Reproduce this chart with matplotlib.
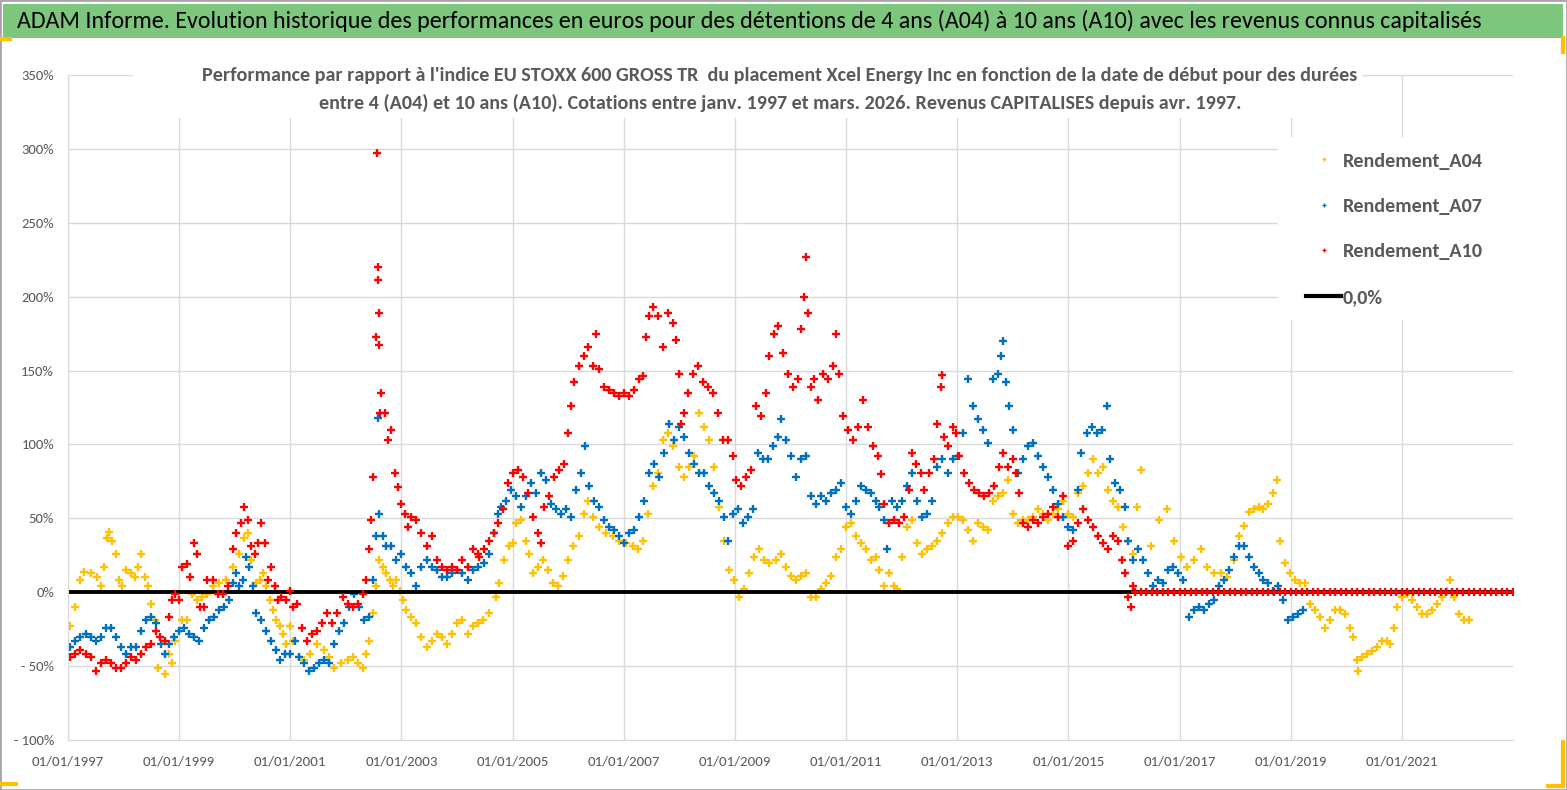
import matplotlib
matplotlib.use('Agg')
import matplotlib.pyplot as plt
from matplotlib import font_manager as fm
from matplotlib.lines import Line2D
from matplotlib.patches import Rectangle
from matplotlib.ticker import FuncFormatter, MultipleLocator, FixedLocator

# ---- data (start date as decimal year, performance in %) ----
a04_year = [
    1997.04, 1997.13, 1997.22, 1997.29, 1997.41, 1997.53, 1997.59, 1997.65, 1997.71, 1997.74, 1997.80, 1997.86, 1997.92, 1997.98,
    1998.05, 1998.14, 1998.20, 1998.26, 1998.32, 1998.38, 1998.44, 1998.50, 1998.56, 1998.62, 1998.74, 1998.81, 1998.87, 1998.93,
    1999.05, 1999.14, 1999.23, 1999.32, 1999.41, 1999.50, 1999.60, 1999.72, 1999.84, 1999.96,
    2000.08, 2000.17, 2000.23, 2000.29, 2000.39, 2000.45, 2000.51, 2000.57, 2000.63, 2000.69, 2000.75, 2000.81, 2000.87, 2000.93, 2000.99,
    2001.05, 2001.15, 2001.24, 2001.36, 2001.48, 2001.60, 2001.69, 2001.78, 2001.91,
    2002.03, 2002.12, 2002.21, 2002.30, 2002.36, 2002.42, 2002.48, 2002.54, 2002.60, 2002.67, 2002.73, 2002.79, 2002.85, 2002.91, 2002.97,
    2003.03, 2003.09, 2003.18, 2003.27, 2003.36, 2003.46, 2003.55, 2003.64, 2003.73, 2003.82, 2003.91,
    2004.00, 2004.09, 2004.19, 2004.28, 2004.37, 2004.46, 2004.58, 2004.70, 2004.76, 2004.85, 2004.94,
    2005.00, 2005.06, 2005.15, 2005.24, 2005.30, 2005.36, 2005.45, 2005.54, 2005.63, 2005.72, 2005.81, 2005.90, 2005.99,
    2006.08, 2006.20, 2006.29, 2006.35, 2006.44, 2006.56, 2006.68, 2006.80, 2006.92,
    2007.04, 2007.16, 2007.25, 2007.34, 2007.43, 2007.52, 2007.61, 2007.70, 2007.79, 2007.88,
    2008.00, 2008.09, 2008.18, 2008.27, 2008.36, 2008.45, 2008.54, 2008.63, 2008.72, 2008.81, 2008.90, 2008.99,
    2009.08, 2009.17, 2009.26, 2009.35, 2009.44, 2009.53, 2009.62, 2009.74, 2009.83, 2009.92,
    2010.01, 2010.10, 2010.19, 2010.28, 2010.37, 2010.46, 2010.55, 2010.64, 2010.73, 2010.82, 2010.91,
    2011.00, 2011.09, 2011.18, 2011.27, 2011.36, 2011.45, 2011.54, 2011.59, 2011.68, 2011.77, 2011.86, 2011.92,
    2012.01, 2012.10, 2012.19, 2012.28, 2012.37, 2012.46, 2012.55, 2012.64, 2012.73, 2012.83, 2012.92,
    2013.01, 2013.10, 2013.19, 2013.28, 2013.37, 2013.46, 2013.55, 2013.64, 2013.73, 2013.82, 2013.91,
    2014.00, 2014.09, 2014.18, 2014.27, 2014.36, 2014.45, 2014.54, 2014.63, 2014.72, 2014.81, 2014.90, 2014.99,
    2015.08, 2015.17, 2015.27, 2015.36, 2015.45, 2015.54, 2015.63, 2015.72, 2015.81, 2015.90, 2015.99,
    2016.08, 2016.17, 2016.23, 2016.30, 2016.48, 2016.63, 2016.78, 2016.90,
    2017.02, 2017.14, 2017.26, 2017.38, 2017.50, 2017.62, 2017.74, 2017.86, 2017.98,
    2018.07, 2018.16, 2018.25, 2018.34, 2018.43, 2018.51, 2018.60, 2018.69, 2018.75, 2018.81, 2018.90, 2018.99,
    2019.08, 2019.17, 2019.26, 2019.35, 2019.44, 2019.53, 2019.62, 2019.71, 2019.80, 2019.89, 2019.98,
    2020.07, 2020.13, 2020.19, 2020.22, 2020.28, 2020.37, 2020.46, 2020.55, 2020.64, 2020.73, 2020.79, 2020.85, 2020.91,
    2021.00, 2021.09, 2021.18, 2021.27, 2021.36, 2021.45, 2021.54, 2021.63, 2021.72, 2021.81, 2021.87, 2021.93,
    2022.02, 2022.11, 2022.20,
]
a04_pct = [
    -23, -10, 8, 14, 13, 10, 4, 17, 37, 41, 35, 26, 8, 4,
    15, 13, 10, 17, 26, 10, 4, -8, -19, -51, -55, -42, -48, -33,
    -19, -19, -1, -5, -3, -1, 4, 6, 8, 17,
    26, 37, 40, 22, 6, 8, 13, 4, -5, -12, -19, -23, -28, -35, -23,
    -33, -44, -46, -42, -35, -39, -44, -51, -48,
    -46, -44, -48, -51, -42, -33, -14, 4, 22, 17, 13, 8, 4, 8, 1,
    -5, -12, -17, -21, -30, -37, -33, -28, -30, -35, -28,
    -21, -19, -28, -23, -21, -19, -14, -3, 6, 22, 31,
    33, 47, 49, 35, 26, 13, 17, 22, 15, 6, 4, 11, 22,
    31, 38, 53, 62, 51, 44, 40, 38, 35,
    33, 31, 29, 35, 53, 72, 81, 103, 108, 99,
    85, 78, 85, 92, 121, 112, 103, 85, 58, 35, 15, 8,
    -3, 2, 13, 24, 29, 22, 20, 22, 26, 17,
    11, 8, 11, 13, -3, -3, 2, 6, 11, 24, 29,
    44, 47, 38, 33, 29, 22, 24, 15, 4, 13, 4, 2,
    24, 44, 49, 33, 26, 29, 31, 35, 40, 47, 51,
    51, 49, 42, 35, 47, 44, 42, 62, 65, 67, 76,
    53, 47, 49, 49, 51, 56, 53, 49, 53, 56, 62, 53,
    51, 67, 72, 81, 90, 81, 85, 69, 62, 58, 44,
    35, 26, 58, 83, 31, 49, 56, 35,
    24, 17, 22, 29, 17, 13, 13, 10, 22,
    38, 45, 54, 56, 58, 56, 60, 67, 76, 35, 20, 13,
    8, 6, 6, -8, -12, -17, -24, -19, -12, -12, -15,
    -24, -30, -46, -53, -44, -42, -40, -37, -33, -33, -35, -24, -10,
    -3, -1, -5, -10, -15, -15, -12, -8, -3, 1, 8, -3,
    -15, -19, -19,
]

a07_year = [
    1997.04, 1997.13, 1997.22, 1997.32, 1997.41, 1997.50, 1997.59, 1997.68, 1997.77, 1997.86, 1997.95,
    1998.05, 1998.14, 1998.23, 1998.32, 1998.41, 1998.50, 1998.59, 1998.68, 1998.74, 1998.81, 1998.90, 1998.99,
    1999.08, 1999.17, 1999.26, 1999.35, 1999.44, 1999.53, 1999.63, 1999.72, 1999.81, 1999.90, 1999.96,
    2000.02, 2000.08, 2000.14, 2000.20, 2000.26, 2000.33, 2000.39, 2000.48, 2000.57, 2000.66, 2000.75, 2000.81, 2000.90, 2000.99,
    2001.09, 2001.15, 2001.24, 2001.33, 2001.42, 2001.51, 2001.60, 2001.69, 2001.78, 2001.88, 2001.97,
    2002.06, 2002.15, 2002.24, 2002.33, 2002.42, 2002.48, 2002.54, 2002.57, 2002.60, 2002.67, 2002.73, 2002.82, 2002.91,
    2003.00, 2003.09, 2003.18, 2003.27, 2003.36, 2003.46, 2003.55, 2003.64, 2003.73, 2003.82, 2003.91,
    2004.00, 2004.09, 2004.19, 2004.28, 2004.37, 2004.49, 2004.58, 2004.67, 2004.73, 2004.79, 2004.88, 2004.97,
    2005.06, 2005.15, 2005.24, 2005.33, 2005.42, 2005.51, 2005.60, 2005.69, 2005.78, 2005.87, 2005.96,
    2006.05, 2006.14, 2006.23, 2006.31, 2006.38, 2006.47, 2006.56, 2006.65, 2006.74, 2006.83, 2006.92,
    2007.01, 2007.10, 2007.19, 2007.28, 2007.37, 2007.46, 2007.55, 2007.64, 2007.73, 2007.82, 2007.91,
    2008.00, 2008.09, 2008.18, 2008.27, 2008.36, 2008.45, 2008.54, 2008.63, 2008.72, 2008.81, 2008.87, 2008.96,
    2009.05, 2009.14, 2009.23, 2009.32, 2009.41, 2009.50, 2009.59, 2009.68, 2009.77, 2009.83, 2009.92,
    2010.01, 2010.10, 2010.19, 2010.28, 2010.37, 2010.46, 2010.55, 2010.64, 2010.73, 2010.82, 2010.91,
    2011.00, 2011.09, 2011.18, 2011.27, 2011.36, 2011.45, 2011.54, 2011.59, 2011.68, 2011.74, 2011.83, 2011.92,
    2012.01, 2012.10, 2012.19, 2012.28, 2012.37, 2012.46, 2012.55, 2012.64, 2012.73, 2012.83, 2012.92,
    2013.01, 2013.10, 2013.19, 2013.28, 2013.37, 2013.46, 2013.55, 2013.64, 2013.73, 2013.79, 2013.83, 2013.88, 2013.94,
    2014.00, 2014.09, 2014.18, 2014.27, 2014.36, 2014.45, 2014.54, 2014.63, 2014.72, 2014.81, 2014.90, 2014.99,
    2015.08, 2015.17, 2015.23, 2015.33, 2015.42, 2015.51, 2015.60, 2015.69, 2015.75, 2015.84, 2015.93,
    2016.02, 2016.08, 2016.17, 2016.26, 2016.35, 2016.44, 2016.53, 2016.62, 2016.71, 2016.80, 2016.89, 2016.98,
    2017.07, 2017.17, 2017.26, 2017.35, 2017.44, 2017.53, 2017.62, 2017.71, 2017.80, 2017.89, 2017.98,
    2018.07, 2018.16, 2018.25, 2018.34, 2018.43, 2018.51, 2018.60, 2018.69, 2018.78, 2018.87, 2018.96,
    2019.05, 2019.14, 2019.23,
]
a07_pct = [
    -37, -33, -30, -28, -30, -33, -30, -24, -24, -30, -37,
    -42, -37, -37, -26, -19, -17, -21, -35, -42, -35, -30, -26,
    -24, -28, -30, -33, -24, -19, -17, -12, -10, -5, 6,
    13, 4, 8, 24, 17, 4, -14, -19, -26, -33, -39, -46, -42, -42,
    -33, -44, -48, -53, -51, -48, -46, -48, -35, -26, -21,
    -10, -1, -10, -19, -17, 8, 38, 118, 53, 38, 31, 31, 22,
    26, 17, 13, 4, 17, 22, 17, 15, 10, 10, 13,
    15, 13, 8, 15, 17, 20, 26, 40, 53, 58, 62, 69,
    65, 58, 65, 74, 67, 81, 76, 60, 56, 53, 56,
    51, 69, 81, 99, 72, 62, 58, 49, 44, 42, 38,
    33, 40, 42, 51, 62, 81, 87, 78, 94, 114, 103,
    112, 105, 94, 87, 81, 81, 72, 67, 62, 51, 35, 53,
    56, 47, 51, 56, 94, 90, 90, 99, 105, 117, 103,
    92, 78, 90, 92, 65, 60, 65, 62, 67, 69, 74,
    58, 53, 62, 72, 69, 67, 62, 58, 49, 29, 62, 58,
    62, 72, 81, 62, 51, 53, 62, 85, 90, 81, 90,
    92, 108, 144, 126, 117, 110, 101, 144, 148, 160, 170, 142, 126,
    110, 81, 90, 99, 101, 92, 85, 78, 69, 60, 51, 44,
    42, 69, 94, 108, 112, 108, 110, 126, 90, 74, 69,
    58, 35, 22, 29, 22, 13, 4, 8, 6, 15, 17, 13,
    8, -17, -12, -10, -12, -8, -5, 4, 8, 15, 24,
    31, 31, 24, 17, 13, 8, 6, 1, 4, -5, -19,
    -17, -15, -12,
]

a10_year = [
    1997.04, 1997.13, 1997.22, 1997.32, 1997.41, 1997.50, 1997.59, 1997.68, 1997.77, 1997.86, 1997.95,
    1998.05, 1998.14, 1998.23, 1998.32, 1998.41, 1998.50, 1998.59, 1998.65, 1998.74, 1998.81, 1998.87, 1998.93, 1998.99,
    1999.05, 1999.14, 1999.20, 1999.26, 1999.32, 1999.38, 1999.44, 1999.50, 1999.60, 1999.69, 1999.78, 1999.87, 1999.96,
    2000.02, 2000.11, 2000.17, 2000.23, 2000.29, 2000.36, 2000.42, 2000.48, 2000.54, 2000.60, 2000.66, 2000.72, 2000.78, 2000.84, 2000.93, 2000.99,
    2001.05, 2001.12, 2001.21, 2001.30, 2001.39, 2001.48, 2001.57, 2001.66, 2001.75, 2001.84, 2001.94,
    2002.03, 2002.12, 2002.21, 2002.30, 2002.36, 2002.42, 2002.45, 2002.48, 2002.54, 2002.56, 2002.57, 2002.58, 2002.59, 2002.60,
    2002.62, 2002.64, 2002.70, 2002.76, 2002.82, 2002.88, 2002.94,
    2003.00, 2003.06, 2003.12, 2003.18, 2003.27, 2003.36, 2003.46, 2003.55, 2003.64, 2003.73, 2003.82, 2003.91,
    2004.00, 2004.09, 2004.19, 2004.28, 2004.37, 2004.40, 2004.49, 2004.58, 2004.67, 2004.73, 2004.82, 2004.91,
    2005.00, 2005.09, 2005.18, 2005.27, 2005.36, 2005.45, 2005.51, 2005.57, 2005.66, 2005.75, 2005.84, 2005.93, 2005.99,
    2006.05, 2006.11, 2006.20, 2006.29, 2006.35, 2006.44, 2006.50, 2006.56, 2006.65, 2006.74, 2006.83, 2006.92,
    2007.01, 2007.10, 2007.19, 2007.28, 2007.34, 2007.40, 2007.46, 2007.52, 2007.61, 2007.70, 2007.79, 2007.88, 2007.94,
    2008.00, 2008.03, 2008.09, 2008.15, 2008.24, 2008.33, 2008.42, 2008.51, 2008.60, 2008.69, 2008.78, 2008.87, 2008.96,
    2009.02, 2009.11, 2009.20, 2009.29, 2009.38, 2009.47, 2009.56, 2009.62, 2009.71, 2009.77, 2009.86, 2009.95,
    2010.04, 2010.13, 2010.19, 2010.25, 2010.27, 2010.31, 2010.37, 2010.43, 2010.49, 2010.58, 2010.67, 2010.76, 2010.82, 2010.88, 2010.94,
    2011.03, 2011.12, 2011.21, 2011.30, 2011.39, 2011.48, 2011.57, 2011.63, 2011.68, 2011.77, 2011.86, 2011.95,
    2012.04, 2012.13, 2012.19, 2012.25, 2012.34, 2012.40, 2012.49, 2012.58, 2012.64, 2012.70, 2012.72, 2012.77, 2012.83, 2012.92, 2012.98,
    2013.04, 2013.13, 2013.22, 2013.31, 2013.40, 2013.49, 2013.58, 2013.67, 2013.76, 2013.82, 2013.91,
    2014.00, 2014.06, 2014.12, 2014.18, 2014.27, 2014.36, 2014.45, 2014.54, 2014.63, 2014.72, 2014.81, 2014.90, 2014.99,
    2015.08, 2015.17, 2015.27, 2015.36, 2015.45, 2015.54, 2015.63, 2015.72, 2015.81, 2015.90, 2015.96,
    2016.02, 2016.08, 2016.12, 2016.17,
]
a10_pct = [
    -44, -42, -39, -42, -44, -53, -48, -46, -48, -51, -51,
    -48, -44, -46, -42, -37, -35, -26, -30, -33, -17, -5, -1, -5,
    17, 19, 10, 33, 26, -10, -10, 8, 8, -1, -1, 4, 29,
    40, 47, 58, 49, 31, 26, 33, 47, 33, 8, 17, 4, -5, -3, -5, 1,
    -10, -8, -24, -33, -28, -26, -21, -14, -21, -14, -3,
    -8, -10, -8, -1, 8, 29, 49, 78, 173, 297, 220, 211, 189, 167,
    121, 135, 121, 103, 110, 81, 71,
    60, 53, 44, 51, 49, 40, 31, 38, 22, 17, 15, 17,
    15, 22, 17, 29, 26, 24, 29, 35, 40, 47, 56, 74,
    81, 83, 78, 67, 51, 40, 33, 58, 65, 78, 83, 87, 108,
    126, 142, 153, 160, 166, 153, 175, 151, 139, 137, 135, 133,
    135, 133, 137, 144, 146, 173, 187, 193, 187, 166, 189, 182, 171,
    148, 114, 121, 135, 148, 153, 142, 139, 135, 121, 103, 103, 92,
    76, 72, 78, 83, 126, 119, 135, 160, 175, 180, 162, 148,
    139, 144, 178, 200, 227, 189, 139, 144, 130, 148, 144, 153, 175, 148, 119,
    110, 103, 112, 130, 112, 99, 92, 80, 60, 47, 49, 47,
    51, 69, 94, 87, 81, 69, 81, 90, 114, 139, 147, 105, 99, 112, 108,
    92, 81, 74, 69, 67, 65, 67, 72, 85, 94, 85,
    90, 81, 67, 47, 44, 49, 47, 51, 53, 58, 51, 65, 31,
    35, 47, 56, 49, 44, 38, 33, 29, 38, 35, 22,
    13, -3, -10, 4,
]
# after the 10-year window runs out the A10 series sits at 0 % until the axis end
a10_flat_year = [
    2016.2, 2016.3, 2016.4, 2016.5, 2016.6, 2016.7, 2016.8, 2016.9,
    2017.0, 2017.1, 2017.2, 2017.3, 2017.4, 2017.5, 2017.6, 2017.7, 2017.8, 2017.9,
    2018.0, 2018.1, 2018.2, 2018.3, 2018.4, 2018.5, 2018.6, 2018.7, 2018.8, 2018.9,
    2019.0, 2019.1, 2019.2, 2019.3, 2019.4, 2019.5, 2019.6, 2019.7, 2019.8, 2019.9,
    2020.0, 2020.1, 2020.2, 2020.3, 2020.4, 2020.5, 2020.6, 2020.7, 2020.8, 2020.9,
    2021.0, 2021.1, 2021.2, 2021.3, 2021.4, 2021.5, 2021.6, 2021.7, 2021.8, 2021.9,
    2022.0, 2022.1, 2022.2, 2022.3, 2022.4, 2022.5, 2022.6, 2022.7, 2022.8, 2022.9, 2023.0,
]
a10_flat_pct = [0] * len(a10_flat_year)

labels = ['Rendement_A04', 'Rendement_A07', 'Rendement_A10', '0,0%']
tick_years = [1997, 1999, 2001, 2003, 2005, 2007, 2009, 2011, 2013, 2015, 2017, 2019, 2021]

title = ("ADAM Informe. Evolution historique des performances en euros pour des détentions "
         "de 4 ans (A04) à 10 ans (A10) avec les revenus connus capitalisés")
sub1 = ("Performance par rapport à l'indice EU STOXX 600 GROSS TR  du placement Xcel Energy Inc "
        "en fonction de la date de début pour des durées")
sub2 = ("entre 4 (A04) et 10 ans (A10). Cotations entre janv. 1997 et mars. 2026. "
        "Revenus CAPITALISES depuis avr. 1997.")

GOLD, BLUE, RED = '#FFC000', '#0070C0', '#FF0000'
GREY_TXT = '#595959'
GRID = '#D9D9D9'

# Carlito has Calibri's metrics; fall back on other faces if it is missing
avail = {f.name for f in fm.fontManager.ttflist}
base = 'DejaVu Sans'
for cand in ['Carlito', 'Liberation Sans Narrow', 'Lato']:
    if cand in avail:
        base = cand
        break
plt.rcParams['font.family'] = [base, 'DejaVu Sans']

W, H = 1567, 790
fig = plt.figure(figsize=(W / 100, H / 100), dpi=100)
fig.patch.set_facecolor('white')
ax = fig.add_axes([68 / W, 1 - 740 / H, (1513 - 68) / W, (740 - 75) / H])


def fx(x):
    return x / W


def fy(y):
    return 1 - y / H


def size_for(s, target_px, weight='normal'):
    # font size (pt) that gives the string the pixel width it has in the reference
    t = fig.text(0, 0, s, fontsize=10, fontweight=weight)
    w = t.get_window_extent(renderer=fig.canvas.get_renderer()).width
    t.remove()
    return 10 * target_px / w


fs_title = size_for(title, 1468)
fs_sub = size_for(sub1, 1160, 'bold')
fs_ytick = size_for('350%', 33)
fs_xtick = size_for('01/01/1997', 72)
fs_leg = size_for('Rendement_A04', 140, 'bold')

# frame, green banner and the little yellow handles
fig.patches.append(Rectangle((0, 0), 1, 1, transform=fig.transFigure, fill=False,
                             edgecolor='#A6A6A6', lw=2, zorder=0))
fig.patches.append(Rectangle((fx(3), fy(38)), fx(1560), 34 / H, transform=fig.transFigure,
                             facecolor='#7DC67D', edgecolor='none', zorder=1))
for xs, ys in [([0, 10], [39, 39]), ([1563, 1563], [38, 52]), ([0, 16], [784, 784]),
               ([1563, 1563], [742, 786]), ([1548, 1563], [786, 786])]:
    fig.lines.append(Line2D([fx(v) for v in xs], [fy(v) for v in ys], transform=fig.transFigure,
                            color='#FFC000', lw=3, zorder=5))

# series
mk = dict(ls='none', marker='+', ms=6, mew=1.7)
ax.plot(a04_year, a04_pct, color=GOLD, zorder=2, **mk)
ax.plot(a07_year, a07_pct, color=BLUE, zorder=2.1, **mk)
ax.axhline(0, color='black', lw=2.8, zorder=2.2)
ax.plot(a10_year, a10_pct, color=RED, zorder=2.3, **mk)
ax.plot(a10_flat_year, a10_flat_pct, color=RED, zorder=2.3, **mk)

ax.set_xlim(1997, 2023)
ax.set_ylim(-100, 350)
ax.xaxis.set_major_locator(FixedLocator(tick_years))
ax.xaxis.set_major_formatter(FuncFormatter(lambda v, p: f"01/01/{int(round(v))}"))
ax.yaxis.set_major_locator(MultipleLocator(50))
ax.yaxis.set_major_formatter(FuncFormatter(
    lambda v, p: f"{v:.0f}%" if v >= 0 else f"- {abs(v):.0f}%"))
ax.grid(True, color=GRID, lw=1)
ax.set_axisbelow(True)
for s in ['top', 'right']:
    ax.spines[s].set_visible(False)
for s in ['left', 'bottom']:
    ax.spines[s].set_color(GRID)
ax.tick_params(length=0, colors=GREY_TXT)
ax.tick_params(axis='y', labelsize=fs_ytick, pad=10)
ax.tick_params(axis='x', labelsize=fs_xtick, pad=11)

# white panels that hide the grid behind the subtitle and the legend
fig.patches.append(Rectangle((fx(133), fy(118)), fx(1362 - 133), 56 / H,
                             transform=fig.transFigure, facecolor='white',
                             edgecolor='none', zorder=2))
fig.patches.append(Rectangle((fx(1278), fy(320)), fx(1514 - 1278), (320 - 137) / H,
                             transform=fig.transFigure, facecolor='white',
                             edgecolor='none', zorder=2))

# legend (figure level so it sits above the white panel)
fpx = fs_leg * 100 / 72
lmk = dict(ls='none', marker='+', ms=3.5, mew=1.0)
handles = [Line2D([], [], color=GOLD, **lmk), Line2D([], [], color=BLUE, **lmk),
           Line2D([], [], color=RED, **lmk), Line2D([], [], color='black', lw=3)]


def make_legend(x0, y0, ls):
    lg = fig.legend(handles, labels, loc='upper left', bbox_to_anchor=(fx(x0), fy(y0)),
                    bbox_transform=fig.transFigure, frameon=False, borderpad=0,
                    borderaxespad=0, labelspacing=ls, handlelength=35 / fpx,
                    handletextpad=2 / fpx, prop={'weight': 'bold', 'size': fs_leg},
                    labelcolor=GREY_TXT)
    lg.set_zorder(6)
    return lg


def legend_rows(lg):
    fig.canvas.draw()
    r = fig.canvas.get_renderer()
    ext = [t.get_window_extent(renderer=r) for t in lg.get_texts()]
    centres = [H - (e.y0 + e.y1) / 2 for e in ext]
    return centres, ext[0].x0


# place the legend rows where they are in the reference (pitch 45.5 px, first row at 161)
x0, y0, ls = 1306, 148, 1.5
leg = make_legend(x0, y0, ls)
rows, _ = legend_rows(leg)
ls += (45.5 - (rows[-1] - rows[0]) / 3) / fpx
leg.remove()
leg = make_legend(x0, y0, ls)
rows, tx = legend_rows(leg)
y0 += 161 - rows[0]
x0 += 1343 - tx
leg.remove()
leg = make_legend(x0, y0, ls)

# titles
fig.text(fx(17), fy(21), title, ha='left', va='center', fontsize=fs_title,
         color='black', zorder=6)
fig.text(fx(780), fy(76), sub1, ha='center', va='center', fontsize=fs_sub,
         fontweight='bold', color=GREY_TXT, zorder=6)
fig.text(fx(780), fy(103), sub2, ha='center', va='center', fontsize=fs_sub,
         fontweight='bold', color=GREY_TXT, zorder=6)

fig.savefig('out.png', dpi=100, facecolor='white')
